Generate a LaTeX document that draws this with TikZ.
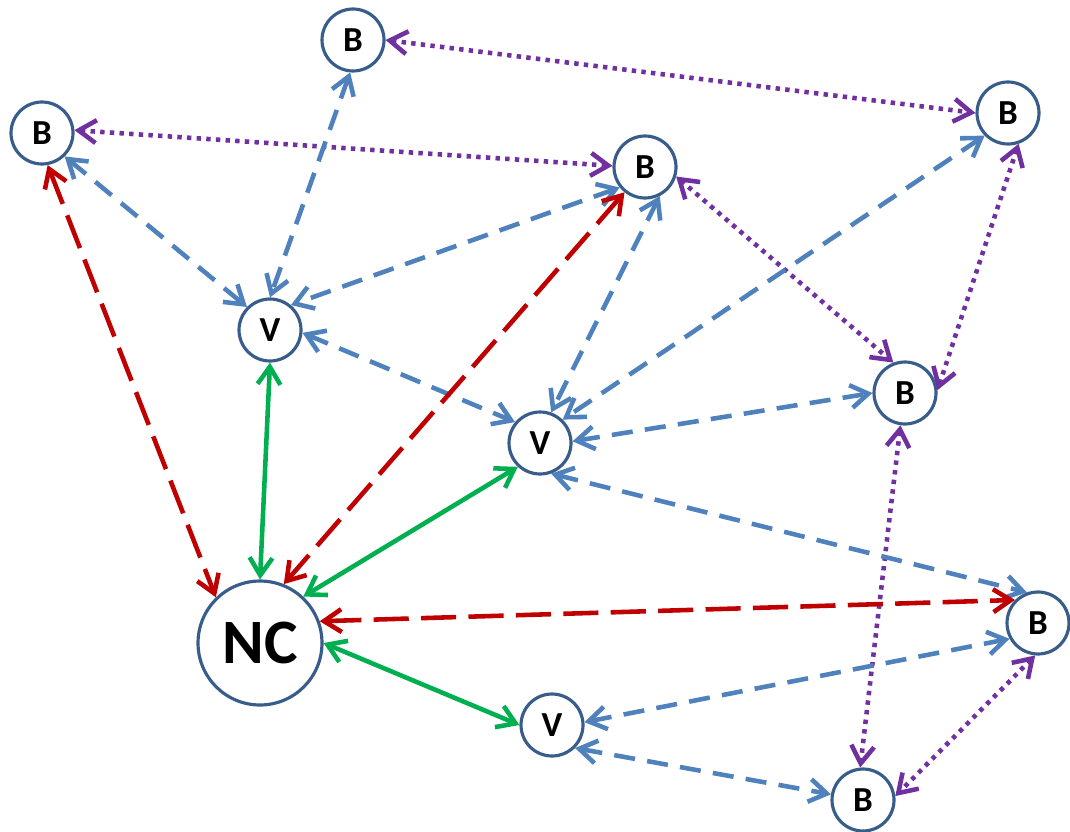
\documentclass[tikz,border=0pt]{standalone}
\usepackage{fontspec}
\setmainfont{Carlito}
\usepackage{xcolor}
\usetikzlibrary{arrows.meta}

\begin{document}
\begin{tikzpicture}[x=0.02cm,y=-0.02cm,
  mynode/.style={circle,draw=rim,line width=1.8pt,fill=white,minimum size=1.24cm,inner sep=0pt,font=\fontsize{20}{22}\selectfont\bfseries},
  bignode/.style={mynode,minimum size=2.48cm,font=\fontsize{36}{40}\selectfont\bfseries},
  link/.style={line width=2.6pt,{Straight Barb[length=10pt,width=13pt]}-{Straight Barb[length=10pt,width=13pt]}},
  blueline/.style={link,draw=bluish,dash pattern=on 12pt off 7pt},
  redline/.style={link,draw=reddish,dash pattern=on 20pt off 7pt},
  greenline/.style={link,draw=greenish},
  purpleline/.style={link,draw=purplish,dash pattern=on 2.5pt off 3pt}]
\definecolor{rim}{HTML}{385D8A}
\definecolor{bluish}{HTML}{4F81BD}
\definecolor{reddish}{HTML}{C00000}
\definecolor{greenish}{HTML}{00B050}
\definecolor{purplish}{HTML}{7030A0}
\useasboundingbox (0,0) rectangle (1070,831);
  \foreach \nm/\px/\py in {b1/353/40,b2/42/133,b3/645/167,b4/1008/113,b5/905/393,b6/1038/623,b7/863/800}
  {  \node [mynode] (\nm) at (\px,\py) {B};}
  \foreach \nm/\px/\py in {v1/270/330,v2/540/443,v3/552/725}
  {  \node [mynode] (\nm) at (\px,\py) {V};}
  \node [bignode] (nc) at (260,643) {NC};
  \foreach \a/\b in {b1.0/b4.180,b2.5/b3.178,b3.343/b5.111,b4.289/b5.5,b5.262/b7.95,b6.265/b7.7}
  {  \draw [purpleline] (\a) -- (\b);}
  \foreach \a/\b in {b1.265/v1.90,b2.314/v1.135,b3.219/v1.50,b3.297/v2.70,b4.224/v2.46,v1.355/v2.140,v2.3/b5.180,v2.290/b6.110,v3.5/b6.209,v3.315/b7.170}
  {  \draw [blueline] (\a) -- (\b);}
  \foreach \a/\b in {b2.280/nc.134,b3.231/nc.68,nc.20/b6.135}
  {  \draw [redline] (\a) -- (\b);}
  \foreach \a/\b in {v1.270/nc.90,v2.227/nc.47,nc.0/v3.180}
  {  \draw [greenline] (\a) -- (\b);}
\end{tikzpicture}
\end{document}
